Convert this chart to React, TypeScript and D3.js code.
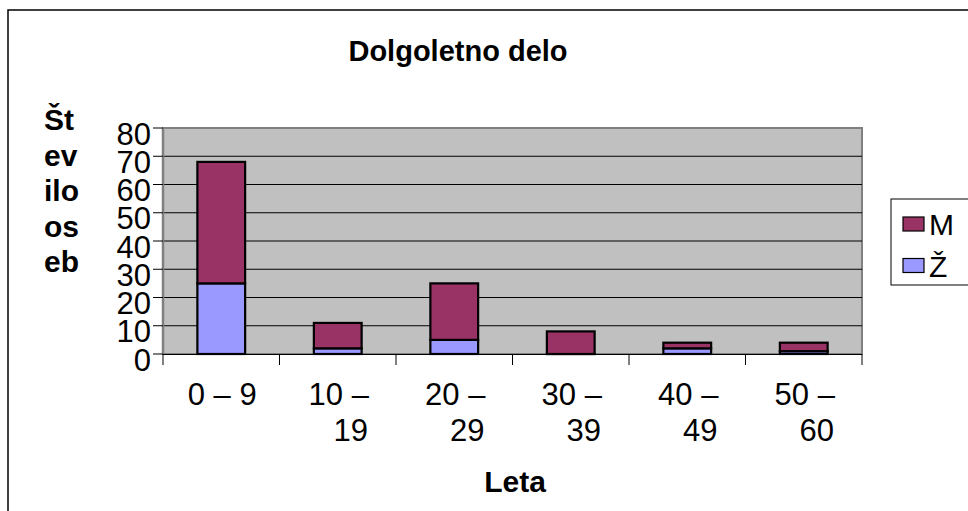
import React from "react";
import * as d3 from "d3";

const categories = ["0 – 9", "10 – 19", "20 – 29", "30 – 39", "40 – 49", "50 – 60"];
const categoryLines = [["0 – 9"], ["10 –", "19"], ["20 –", "29"], ["30 –", "39"], ["40 –", "49"], ["50 –", "60"]];
const zValues = [25, 2, 5, 0, 2, 1];
const mValues = [43, 9, 20, 8, 2, 3];
const seriesNames = ["M", "Ž"];
const yTicks = [0, 10, 20, 30, 40, 50, 60, 70, 80];
const title = "Dolgoletno delo";
const yTitleLines = ["Št", "ev", "ilo", "os", "eb"];
const xTitle = "Leta";

const colors: Record<string, string> = { M: "#993366", "Ž": "#9999FF" };
const FONT = "Arial, 'Liberation Sans', sans-serif";

export default function App() {
  const W = 968, H = 511;
  const plot = { left: 163, right: 862, top: 128, bottom: 354 };
  const x = d3.scaleBand<string>().domain(categories).range([plot.left, plot.right]).paddingInner(0.59).paddingOuter(0.295);
  const y = d3.scaleLinear().domain([0, 80]).range([plot.bottom, plot.top]);
  const step = x.step();
  const boundaries = d3.range(categories.length + 1).map((i) => plot.left + i * step);

  const rows = categories.map((c, i) => ({ cat: c, "Ž": zValues[i], M: mValues[i] }));
  const stack = d3.stack<any>().keys(["Ž", "M"])(rows);
  const fs = 31;

  return (
    <svg width={W} height={H} style={{ position: "absolute", left: 0, top: 0, background: "#fff" }} fontFamily={FONT}>
      <rect x={8} y={10} width={1000} height={600} fill="#fff" stroke="#000" strokeWidth={1.5} />
      <text x={458} y={61} textAnchor="middle" fontWeight="bold" fontSize={29}>{title}</text>
      {/* plot area */}
      <rect x={plot.left} y={plot.top} width={plot.right - plot.left} height={plot.bottom - plot.top} fill="#C0C0C0" stroke="#808080" strokeWidth={2} />
      {yTicks.filter((t) => t > 0 && t < 80).map((t) => (
        <line key={t} x1={plot.left} x2={plot.right} y1={y(t)} y2={y(t)} stroke="#000" strokeWidth={1} />
      ))}
      {/* bars */}
      {stack.map((s) => (
        <g key={s.key} fill={colors[s.key]}>
          {s.map((d, i) => (
            <rect key={i} x={x(categories[i])} width={x.bandwidth()} y={y(d[1])} height={Math.max(y(d[0]) - y(d[1]), 0.01)} stroke="#000" strokeWidth={2.2} />
          ))}
        </g>
      ))}
      {/* y axis */}
      <line x1={plot.left} x2={plot.left} y1={plot.top} y2={plot.bottom} stroke="#808080" strokeWidth={2.5} />
      {yTicks.map((t) => (
        <g key={t}>
          <line x1={153} x2={plot.left} y1={y(t)} y2={y(t)} stroke="#000" strokeWidth={1} />
          <text x={151} y={y(t) + 6} textAnchor="end" dominantBaseline="central" fontSize={fs}>{t}</text>
        </g>
      ))}
      {/* x axis */}
      <line x1={plot.left} x2={plot.right} y1={plot.bottom + 0.5} y2={plot.bottom + 0.5} stroke="#000" strokeWidth={1} />
      {boundaries.map((b, i) => (
        <line key={i} x1={b} x2={b} y1={plot.bottom} y2={plot.bottom + 11} stroke="#000" strokeWidth={1} />
      ))}
      {categoryLines.map((lines, i) => {
        const cx = x(categories[i])! + x.bandwidth() / 2;
        return (
          <text key={i} fontSize={fs} textAnchor="middle">
            {lines.map((l, j) => (
              <tspan key={j} x={cx + (j === 1 ? 13 : 1)} y={405 + j * 36}>{l}</tspan>
            ))}
          </text>
        );
      })}
      <text x={515} y={492} textAnchor="middle" fontWeight="bold" fontSize={30}>{xTitle}</text>
      {yTitleLines.map((l, i) => (
        <text key={i} x={44} y={130 + i * 35.5} fontWeight="bold" fontSize={30}>{l}</text>
      ))}
      {/* legend */}
      <rect x={891} y={199} width={100} height={86} fill="#fff" stroke="#000" strokeWidth={1} />
      {seriesNames.map((n, i) => (
        <g key={n}>
          <rect x={903} y={217 + i * 41.5} width={21} height={14} fill={colors[n]} stroke="#000" strokeWidth={1.2} />
          <text x={929} y={235 + i * 41.5} fontSize={30}>{n}</text>
        </g>
      ))}
    </svg>
  );
}
